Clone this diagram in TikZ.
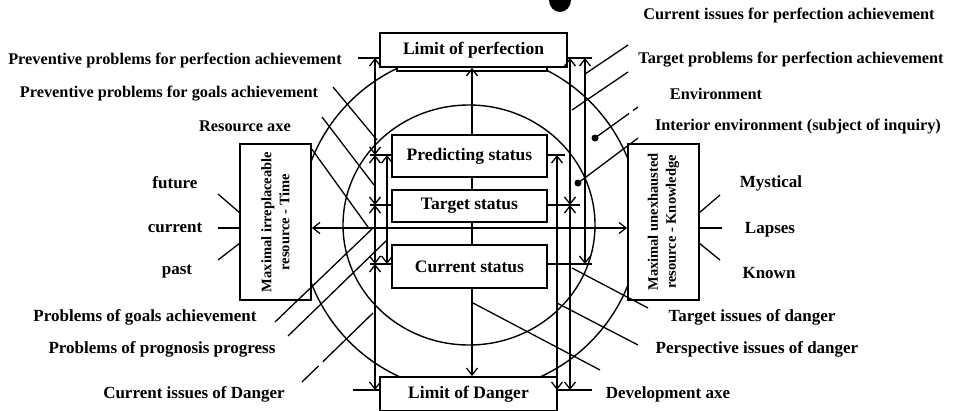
\documentclass[tikz,border=0pt]{standalone}
\usepackage{fontspec}
\setmainfont{Liberation Serif}
\usepackage{tikz}
\usetikzlibrary{arrows.meta}

\begin{document}
\begin{tikzpicture}[x=1pt,y=-1pt]
    \tikzstyle{thinline} = [line width=1.3pt,draw=black]
    \tikzstyle{dedge} = [line width=1.3pt,<->,>={Straight Barb[length=7pt,width=11pt]},draw=black]
    \tikzstyle{ring}  = [line width=1.4pt,draw=black]
    \tikzstyle{box}=[
      draw=black,
      fill=white,
      line width=1.8pt,
      inner sep=0pt,
      anchor=center,
      font=\bfseries\fontsize{17.5}{20}\selectfont,
    ]
    \tikzstyle{sidebox}=[
      box,
      rotate=90,
      minimum width=156pt,
      minimum height=71pt,
      align=center,
      font=\bfseries\fontsize{14.5}{18}\selectfont,
    ]
    \tikzstyle{lbl}=[
      inner sep=0pt,
      anchor=center,
      font=\bfseries\fontsize{16.3}{19}\selectfont,
    ]
    \tikzstyle{lowlbl}=[
      lbl,
      font=\bfseries\fontsize{17}{20}\selectfont,
    ]

    \useasboundingbox (0,0) rectangle (956,410);
    \coordinate (centerAnchor) at (472,228);

    % cut title
    \fill ([xshift=88pt, yshift=228pt] centerAnchor) ellipse (11pt and 12pt);

    % environment circles
    {
      \draw[ring] ([xshift=-2pt, yshift=6pt] centerAnchor) circle (170pt);
      \draw[ring] ([xshift=-3pt, yshift=3pt] centerAnchor) ellipse (126pt and 120pt);
    }

    % limits and resources
    {
      \node[box, draw, line width=1.3pt, minimum width=150pt, minimum height=31pt] (perfBack) at ([xshift=0pt, yshift=172.5pt] centerAnchor) {};
      \node[box, minimum width=187pt, minimum height=34pt] (perf) at ([xshift=1.5pt, yshift=178pt] centerAnchor) {Limit of perfection};
      \node[box, minimum width=177pt, minimum height=34pt] (danger) at ([xshift=-3.5pt, yshift=-166pt] centerAnchor) {Limit of Danger};
      \node[sidebox] (timeBox) at ([xshift=-196.5pt, yshift=6pt] centerAnchor) {Maximal irreplaceable\\resource - Time};
      \node[sidebox] (knowBox) at ([xshift=191.5pt, yshift=6pt] centerAnchor) {Maximal unexhausted\\resource - Knowledge};
    }

    % development and resource axes
    \draw[dedge] (perf.south -| centerAnchor) -- (danger.north -| centerAnchor);
    \draw[dedge] (timeBox.south |- centerAnchor) -- (knowBox.north |- centerAnchor);

    % status
    {
      \node[box, minimum width=155pt, minimum height=42pt] (pred) at ([xshift=-2.5pt, yshift=72pt] centerAnchor) {Predicting status};
      \node[box, minimum width=155pt, minimum height=32pt] (target) at ([xshift=-2.5pt, yshift=22pt] centerAnchor) {Target status};
      \node[box, minimum width=155pt, minimum height=43pt] (current) at ([xshift=-2.5pt, yshift=-38.5pt] centerAnchor) {Current status};
    }

    % problem lines
    {
      \coordinate (lTop)   at ([xshift=-97pt, yshift=170pt] centerAnchor);
      \coordinate (lPred)  at ([xshift=-97pt, yshift=73pt] centerAnchor);
      \coordinate (lTarg)  at ([xshift=-97pt, yshift=23pt] centerAnchor);
      \coordinate (lCurr)  at ([xshift=-97pt, yshift=-36pt] centerAnchor);
      \coordinate (lBot)   at ([xshift=-97pt, yshift=-162pt] centerAnchor);
      \coordinate (liPred) at ([xshift=-85pt, yshift=73pt] centerAnchor);
      \coordinate (liCurr) at ([xshift=-85pt, yshift=-36pt] centerAnchor);
      \coordinate (rPred)  at ([xshift=85pt, yshift=73pt] centerAnchor);
      \coordinate (rBot)   at ([xshift=85pt, yshift=-162pt] centerAnchor);
      \coordinate (rmTop)  at ([xshift=98pt, yshift=170pt] centerAnchor);
      \coordinate (rmTarg) at ([xshift=98pt, yshift=23pt] centerAnchor);
      \coordinate (rmBot)  at ([xshift=98pt, yshift=-162pt] centerAnchor);
      \coordinate (roTop)  at ([xshift=113pt, yshift=170pt] centerAnchor);
      \coordinate (roCurr) at ([xshift=113pt, yshift=-36pt] centerAnchor);

      \draw[thinline] ([xshift=-17pt] lTop) -- (lTop -| perf.west);
      \draw[thinline] (rmTop -| perf.east) -- ([xshift=7pt] roTop);
      \draw[thinline] ([xshift=-22pt] lBot) -- (lBot -| danger.west);
      \draw[thinline] (rBot) -- ([xshift=35pt] rBot);

      \draw[thinline] ([xshift=-5pt] lPred) -- (pred.west |- lPred);
      \draw[thinline] ([xshift=-5pt] lTarg) -- (target.west |- lTarg);
      \draw[thinline] ([xshift=-5pt] lCurr) -- (current.west |- lCurr);
      \draw[thinline] (pred.east |- rPred) -- ([xshift=8pt] rPred);
      \draw[thinline] (target.east |- rmTarg) -- ([xshift=10pt] rmTarg);
      \draw[thinline] (current.east |- roCurr) -- ([xshift=7pt] roCurr);

      \draw[dedge] (lTop)--(lPred);
      \draw[dedge] (lPred)--(lTarg);
      \draw[dedge] (lTarg)--(lCurr);
      \draw[dedge] (lCurr)--(lBot);
      \draw[dedge] (liPred)--(liCurr);
      \draw[dedge] (rPred)--(rBot);
      \draw[dedge] (rmTop)--(rmTarg);
      \draw[dedge] (rmTarg)--(rmBot);
      \draw[dedge] (roTop)--(roCurr);
    }

    % pointers
    {
      \coordinate (goalOut)   at ([xshift=-139pt, yshift=141pt] centerAnchor);
      \coordinate (goalIn)    at ([xshift=-95pt, yshift=88pt] centerAnchor);
      \coordinate (resOut)    at ([xshift=-150pt, yshift=111pt] centerAnchor);
      \coordinate (resIn)     at ([xshift=-98pt, yshift=43pt] centerAnchor);
      \coordinate (boxOut)    at ([xshift=-161pt, yshift=80pt] centerAnchor);
      \coordinate (boxIn)     at ([xshift=-104pt, yshift=1pt] centerAnchor);
      \coordinate (pgaOut)    at ([xshift=-197pt, yshift=-94pt] centerAnchor);
      \coordinate (pgaIn)     at ([xshift=-99pt, yshift=0pt] centerAnchor);
      \coordinate (progOut)   at ([xshift=-184pt, yshift=-108pt] centerAnchor);
      \coordinate (progIn)    at ([xshift=-85pt, yshift=-12pt] centerAnchor);
      \coordinate (cdOut)     at ([xshift=-170pt, yshift=-154pt] centerAnchor);
      \coordinate (cdIn)      at ([xshift=-99pt, yshift=-85pt] centerAnchor);
      \coordinate (cpIn)      at ([xshift=113pt, yshift=154pt] centerAnchor);
      \coordinate (cpOut)     at ([xshift=156pt, yshift=183pt] centerAnchor);
      \coordinate (tpIn)      at ([xshift=100pt, yshift=118pt] centerAnchor);
      \coordinate (tpOut)     at ([xshift=156pt, yshift=156pt] centerAnchor);
      \coordinate (envDot)    at ([xshift=123pt, yshift=90pt] centerAnchor);
      \coordinate (envOut)    at ([xshift=166pt, yshift=121pt] centerAnchor);
      \coordinate (intDot)    at ([xshift=106pt, yshift=45pt] centerAnchor);
      \coordinate (intOut)    at ([xshift=166pt, yshift=90pt] centerAnchor);
      \coordinate (tdIn)      at ([xshift=100pt, yshift=-40pt] centerAnchor);
      \coordinate (tdOut)     at ([xshift=176pt, yshift=-80pt] centerAnchor);
      \coordinate (pdIn)      at ([xshift=85pt, yshift=-75pt] centerAnchor);
      \coordinate (pdOut)     at ([xshift=166pt, yshift=-117pt] centerAnchor);
      \coordinate (devIn)     at ([xshift=1pt, yshift=-75pt] centerAnchor);
      \coordinate (devOut)    at ([xshift=128pt, yshift=-142pt] centerAnchor);

      \draw[thinline] (goalOut) -- (goalIn);
      \draw[thinline] (resOut) -- (resIn);
      \draw[thinline] (boxOut) -- (boxIn);
      \draw[thinline] (pgaOut) -- (pgaIn);
      \draw[thinline] (progOut) -- (progIn);
      \draw[thinline, dash pattern=on 70pt off 6pt on 40pt] (cdIn) -- (cdOut);
      \draw[thinline] (cpIn) -- (cpOut);
      \draw[thinline] (tpIn) -- (tpOut);
      \draw[thinline, dash pattern=on 42pt off 5pt on 6pt off 20pt] (envDot) -- (envOut);
      \draw[thinline] (intDot) -- (intOut);
      \fill (envDot) circle (3.5pt);
      \fill (intDot) circle (3.5pt);
      \draw[thinline] (tdIn) -- (tdOut);
      \draw[thinline] (pdIn) -- (pdOut);
      \draw[thinline] (devIn) -- (devOut);
    }

    % time and knowledge scales
    {
      \draw[thinline] ([xshift=-254pt, yshift=34pt] centerAnchor) -- ([xshift=-232pt, yshift=15pt] centerAnchor);
      \draw[thinline] ([xshift=-254pt, yshift=0pt] centerAnchor) -- ([xshift=-232pt, yshift=0pt] centerAnchor);
      \draw[thinline] ([xshift=-254pt, yshift=-32pt] centerAnchor) -- ([xshift=-232pt, yshift=-15pt] centerAnchor);
      \draw[thinline] ([xshift=227pt, yshift=15pt] centerAnchor) -- ([xshift=248pt, yshift=33pt] centerAnchor);
      \draw[thinline] ([xshift=227pt, yshift=0pt] centerAnchor) -- ([xshift=250pt, yshift=0pt] centerAnchor);
      \draw[thinline] ([xshift=227pt, yshift=-15pt] centerAnchor) -- ([xshift=248pt, yshift=-32pt] centerAnchor);
    }

    % labels
    {
      \node[lbl] (curPerfLbl)  at ([xshift=317pt, yshift=213pt] centerAnchor) {Current issues for perfection achievement};
      \node[lbl] (prevPerfLbl) at ([xshift=-297pt, yshift=168pt] centerAnchor) {Preventive problems for perfection achievement};
      \node[lbl] (targPerfLbl) at ([xshift=319pt, yshift=168pt] centerAnchor) {Target problems for perfection achievement};
      \node[lbl] (prevGoalLbl) at ([xshift=-303pt, yshift=134pt] centerAnchor) {Preventive problems for goals achievement};
      \node[lbl] (envLbl)      at ([xshift=244pt, yshift=134pt] centerAnchor) {Environment};
      \node[lbl] (resLbl)      at ([xshift=-227pt, yshift=102pt] centerAnchor) {Resource axe};
      \node[lbl] (intEnvLbl)   at ([xshift=326pt, yshift=101pt] centerAnchor) {Interior environment (subject of inquiry)};

      \node[lowlbl] (futureLbl)  at ([xshift=-297pt, yshift=45pt] centerAnchor) {future};
      \node[lowlbl] (currentLbl) at ([xshift=-297pt, yshift=0pt] centerAnchor) {current};
      \node[lowlbl] (pastLbl)    at ([xshift=-295pt, yshift=-44pt] centerAnchor) {past};
      \node[lowlbl] (mystLbl)    at ([xshift=299pt, yshift=45pt] centerAnchor) {Mystical};
      \node[lowlbl] (lapseLbl)   at ([xshift=298pt, yshift=-2pt] centerAnchor) {Lapses};
      \node[lowlbl] (knownLbl)   at ([xshift=297pt, yshift=-45pt] centerAnchor) {Known};

      \node[lowlbl] (pgaLbl)   at ([xshift=-327pt, yshift=-89pt] centerAnchor) {Problems of goals achievement};
      \node[lowlbl] (progLbl)  at ([xshift=-310pt, yshift=-121pt] centerAnchor) {Problems of prognosis progress};
      \node[lowlbl] (cdLbl)    at ([xshift=-278pt, yshift=-166pt] centerAnchor) {Current issues of Danger};
      \node[lowlbl] (tdLbl)    at ([xshift=280pt, yshift=-89pt] centerAnchor) {Target issues of danger};
      \node[lowlbl] (pdLbl)    at ([xshift=285pt, yshift=-121pt] centerAnchor) {Perspective issues of danger};
      \node[lowlbl] (devLbl)   at ([xshift=196pt, yshift=-166pt] centerAnchor) {Development axe};
    }
\end{tikzpicture}
\end{document}
